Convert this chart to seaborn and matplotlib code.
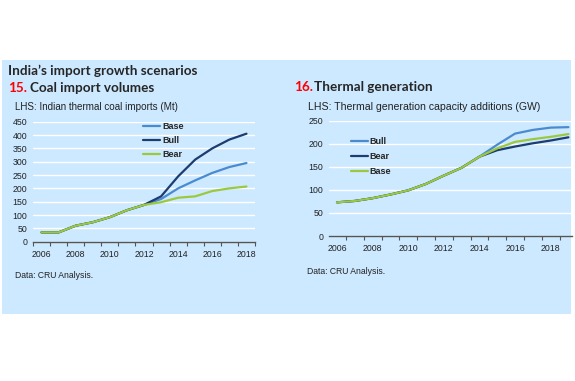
import pandas as pd
import numpy as np
import matplotlib
matplotlib.use("Agg")
import matplotlib.pyplot as plt
import seaborn as sns
from matplotlib.patches import Rectangle
from matplotlib.ticker import FixedLocator

W, H = 575, 381

# Chart 15 data (Mt)
coal_years = list(range(2006, 2019))
coal_base = [35, 35, 60, 73, 92, 118, 138, 160, 200, 230, 258, 280, 295]
coal_bull = [35, 35, 60, 73, 92, 118, 138, 170, 245, 308, 350, 383, 405]
coal_bear = [35, 35, 60, 73, 92, 118, 138, 148, 165, 170, 190, 200, 207]

# Chart 16 data (GW)
gen_years = list(range(2006, 2020))
gen_bull = [73, 76, 82, 90, 99, 113, 131, 148, 172, 198, 222, 230, 235, 236]
gen_bear = [73, 76, 82, 90, 99, 113, 131, 148, 172, 186, 194, 201, 207, 214]
gen_base = [73, 76, 82, 90, 99, 113, 131, 148, 172, 190, 204, 210, 215, 221]

light_blue = "#4A8BD0"
dark_blue = "#1D3C6F"
green = "#9CC83E"
panel_bg = "#CDE9FF"

sns.set_theme(style="white")
plt.rcParams["font.family"] = ["Liberation Sans", "DejaVu Sans"]

fig = plt.figure(figsize=(W / 100, H / 100), dpi=100)
fig.patch.set_facecolor("white")


def fx(x):
    return x / W


def fy(y):
    return 1 - y / H


fig.patches.append(Rectangle((fx(2), fy(314)), fx(569), 254 / H, transform=fig.transFigure,
                             facecolor=panel_bg, edgecolor="none", zorder=-10))

title_font = ["Lato", "DejaVu Sans"]
fig.text(fx(8), fy(71), "India\u2019s import growth scenarios", family=title_font, fontweight="bold",
         fontsize=9.7, va="center", ha="left")
fig.text(fx(8), fy(88), "15.", family=title_font, fontweight="bold", fontsize=9.7, color="#FF0000",
         va="center", ha="left")
fig.text(fx(30), fy(88), "Coal import volumes", family=title_font, fontweight="bold", fontsize=9.7,
         va="center", ha="left")
fig.text(fx(294), fy(87), "16.", family=title_font, fontweight="bold", fontsize=9.7, color="#FF0000",
         va="center", ha="left")
fig.text(fx(314), fy(87), "Thermal generation", family=title_font, fontweight="bold", fontsize=9.7,
         va="center", ha="left")

fig.text(fx(15), fy(107), "LHS: Indian thermal coal imports (Mt)", fontsize=7.1, color="#222222",
         va="center", ha="left")
fig.text(fx(308), fy(107), "LHS: Thermal generation capacity additions (GW)", fontsize=7.6,
         color="#222222", va="center", ha="left")
fig.text(fx(15), fy(275), "Data: CRU Analysis.", fontsize=6.2, color="#222222", va="center", ha="left")
fig.text(fx(307), fy(271), "Data: CRU Analysis.", fontsize=6.2, color="#222222", va="center", ha="left")


def style_axis(ax, xlim, ylim, yticks, xmaj, xmin):
    ax.set_facecolor("none")
    ax.set_xlim(*xlim)
    ax.set_ylim(*ylim)
    ax.set_yticks(yticks)
    ax.xaxis.set_major_locator(FixedLocator(xmaj))
    ax.xaxis.set_minor_locator(FixedLocator(xmin))
    ax.set_xticklabels([str(y) for y in xmaj])
    ax.grid(axis="y", color="white", linewidth=1.0)
    ax.grid(axis="x", visible=False)
    for s in ["top", "right", "left"]:
        ax.spines[s].set_visible(False)
    ax.spines["bottom"].set_color("#555555")
    ax.spines["bottom"].set_linewidth(1.0)
    ax.tick_params(axis="x", which="major", length=0, labelsize=6.3, pad=6, colors="#222222")
    ax.tick_params(axis="x", which="minor", length=3, width=0.8, color="#555555", direction="out",
                   bottom=True)
    ax.tick_params(axis="y", length=0, labelsize=6.3, pad=4, colors="#222222")
    ax.set_xlabel("")
    ax.set_ylabel("")


# Chart 15
ax1 = fig.add_axes([fx(33), fy(241.7), 222 / W, 120 / H])
df1 = pd.DataFrame({
    "year": coal_years * 3,
    "value": coal_base + coal_bull + coal_bear,
    "scenario": ["Base"] * 13 + ["Bull"] * 13 + ["Bear"] * 13,
})
sns.lineplot(data=df1, x="year", y="value", hue="scenario", hue_order=["Base", "Bull", "Bear"],
             palette={"Base": light_blue, "Bull": dark_blue, "Bear": green}, linewidth=1.6, ax=ax1)
style_axis(ax1, (2005.5, 2018.5), (0, 450), range(0, 451, 50),
           list(range(2006, 2019, 2)), list(np.arange(2005.5, 2019, 1)))
leg1 = ax1.legend(loc="upper left", bbox_to_anchor=(0.475, 1.035), frameon=False, handlelength=1.9,
                  handletextpad=0.2, labelspacing=0.55, borderpad=0,
                  prop={"size": 6.5, "weight": "bold"})

# Chart 16
ax2 = fig.add_axes([fx(329), fy(236), 243 / W, 115.3 / H])
df2 = pd.DataFrame({
    "year": gen_years * 3,
    "value": gen_bull + gen_bear + gen_base,
    "scenario": ["Bull"] * 14 + ["Bear"] * 14 + ["Base"] * 14,
})
sns.lineplot(data=df2, x="year", y="value", hue="scenario", hue_order=["Bull", "Bear", "Base"],
             palette={"Bull": light_blue, "Bear": dark_blue, "Base": green}, linewidth=1.6, ax=ax2)
style_axis(ax2, (2005.55, 2019.2), (0, 250), range(0, 251, 50),
           list(range(2006, 2019, 2)), list(np.arange(2005.5, 2019.6, 1)))
leg2 = ax2.legend(loc="upper left", bbox_to_anchor=(0.07, 0.9), frameon=False, handlelength=1.9,
                  handletextpad=0.2, labelspacing=0.7, borderpad=0,
                  prop={"size": 6.5, "weight": "bold"})

fig.savefig("out.png", dpi=100, facecolor="white")
